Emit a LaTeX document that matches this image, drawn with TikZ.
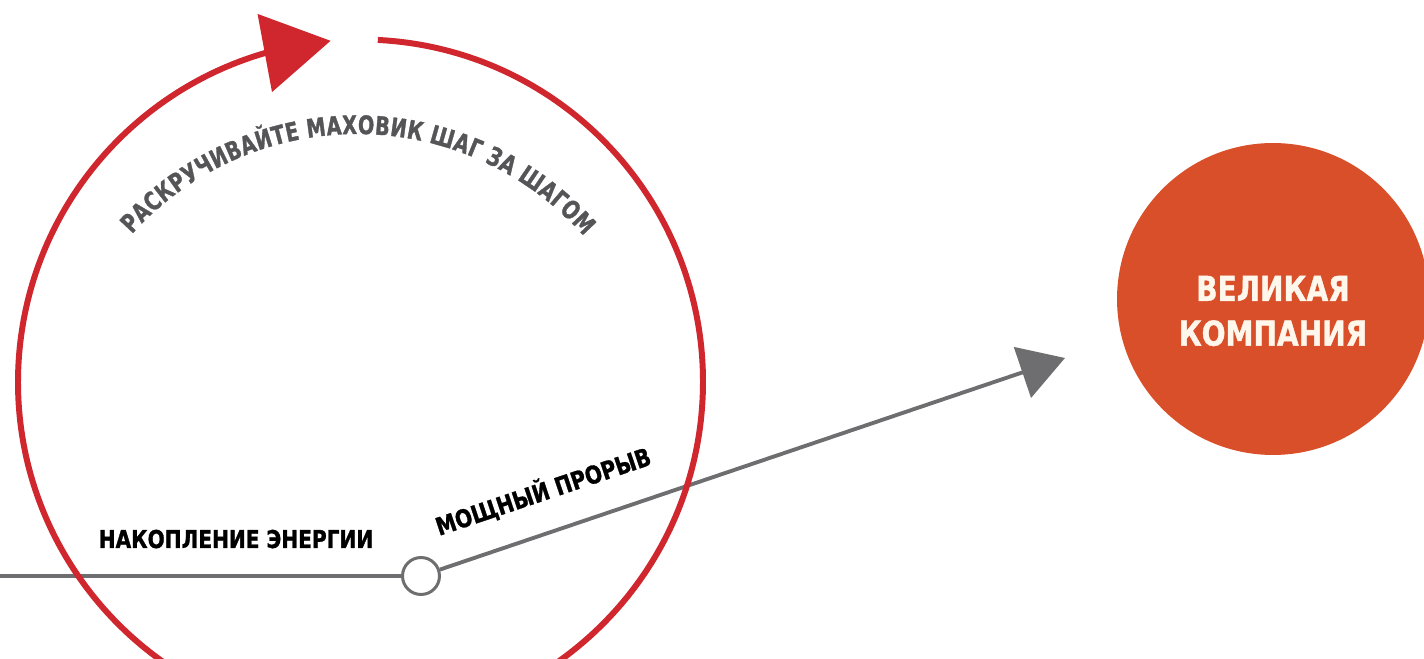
\documentclass[tikz,border=0pt]{standalone}
\usepackage{fontspec}
\usepackage{tikz}
\usetikzlibrary{arrows.meta,bending,decorations.text}
\newfontfamily\dinfont[FakeStretch=0.91,FakeBold=1.2]{DejaVu Sans Condensed Bold}
\newfontfamily\dinnarrow[FakeStretch=0.84,FakeBold=1.2]{DejaVu Sans Condensed Bold}
\definecolor{flyred}{RGB}{208,38,46}
\definecolor{greatorange}{RGB}{217,79,41}
\definecolor{linegray}{RGB}{110,110,112}
\definecolor{textgray}{RGB}{85,85,87}
\definecolor{cream}{RGB}{255,246,236}

\begin{document}
\begin{tikzpicture}[x=0.02cm,y=0.02cm,>={Triangle[length=9mm,width=10.6mm]},
  grayline/.style={draw=linegray,line width=2.2pt},
  brk/.style={circle,draw=linegray,fill=white,line width=1.7pt,minimum size=7.4mm,inner sep=0pt},
  great/.style={circle,fill=greatorange,minimum size=62.4mm,inner sep=0pt},
  greattxt/.style={align=center,text=cream,inner sep=0pt,yshift=-2.4mm,
    font=\dinfont\fontsize{19.5}{25.5}\selectfont},
  lbl/.style={font=\dinfont\fontsize{14}{14}\selectfont,inner sep=0pt,anchor=base}]
\clip (0,0) rectangle (1424,659);
\coordinate (west) at (0,83);
\coordinate (tip) at (1065,301);
\node[brk] (brk) at (421,83) {};
\node[great,label={[greattxt]center:ВЕЛИКАЯ\\КОМПАНИЯ}] (great) at (1273,360) {};
\draw[grayline] (west) -- (brk);
\draw[grayline,->] (brk) -- (tip);
\draw[flyred,line width=3.4pt,-{Triangle[length=13.4mm,width=15.6mm,flex]}]
  (360.5,277) ++(87.1:342.5) arc[start angle=87.1,end angle=-265,radius=342.5];
\path[decorate,decoration={text along path,text color=textgray,text align=fit to path,
  text={|\dinnarrow\fontsize{14.5}{14.5}\selectfont|РАСКРУЧИВАЙТЕ МАХОВИК ШАГ ЗА ШАГОМ}}]
  (357,222) ++(138:303) arc[start angle=138,end angle=41.5,radius=303];
\node[lbl] (charge) at (236,111) {НАКОПЛЕНИЕ ЭНЕРГИИ};
\node[lbl,rotate=18.6] (burst) at (546,159) {МОЩНЫЙ ПРОРЫВ};
\end{tikzpicture}
\end{document}
